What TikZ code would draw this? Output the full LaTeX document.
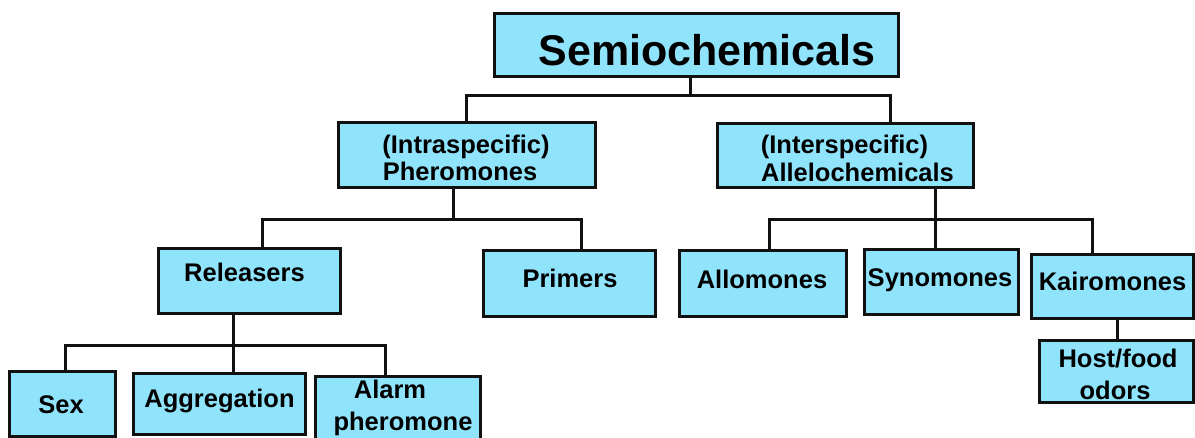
\documentclass[tikz,border=0pt]{standalone}
\usepackage{fontspec}
\setmainfont{Liberation Sans}
\definecolor{boxfill}{RGB}{143,228,252}
\definecolor{inkc}{RGB}{17,17,17}
\tikzset{
  box/.style={draw=inkc, fill=boxfill, line width=3pt, inner sep=0pt, outer sep=0pt},
  conn/.style={draw=inkc, line width=3pt, line cap=rect},
  lbl/.style={anchor=base, inner sep=0pt, text=black, font=\bfseries\fontsize{25.5}{28}\selectfont},
  title/.style={anchor=base, inner sep=0pt, text=black, font=\bfseries\fontsize{43}{48}\selectfont}
}
\begin{document}
\begin{tikzpicture}[x=1pt, y=-1pt]
\useasboundingbox (0,0) rectangle (1195,437);
\fill[white] (0,0) rectangle (1195,437);

% boxes
\node[box, minimum width=404pt, minimum height=63pt] (sem)  at (696,44.5) {};
\node[box, minimum width=257pt, minimum height=65pt] (pher) at (466.5,154.5) {};
\node[box, minimum width=256pt, minimum height=64pt] (alle) at (845,155) {};
\node[box, minimum width=182pt, minimum height=65pt] (rel)  at (249,280.5) {};
\node[box, minimum width=172pt, minimum height=66pt] (prim) at (569,283) {};
\node[box, minimum width=167pt, minimum height=66pt] (allo) at (762.5,283) {};
\node[box, minimum width=154pt, minimum height=65pt] (syn)  at (941,281.5) {};
\node[box, minimum width=162pt, minimum height=64pt] (kai)  at (1112,286) {};
\node[box, minimum width=154pt, minimum height=62pt] (host) at (1116,371) {};
\node[box, minimum width=106pt, minimum height=65pt] (sex)  at (62,403.5) {};
\node[box, minimum width=172pt, minimum height=61pt] (agg)  at (219,403.5) {};
\node[box, minimum width=165pt, minimum height=64pt] (alarm) at (397.5,408) {};

% texts
\node[title] (sem-t) at (707,65) {Semiochemicals};
\node[lbl] (pher-t1) at (466,153) {(Intraspecific)};
\node[lbl] (pher-t2) at (460,180) {Pheromones};
\node[lbl] (alle-t1) at (844.5,153) {(Interspecific)};
\node[lbl] (alle-t2) at (857.5,181) {Allelochemicals};
\node[lbl] (rel-t)  at (244.5,281) {Releasers};
\node[lbl] (prim-t) at (570,287) {Primers};
\node[lbl] (allo-t) at (762,288) {Allomones};
\node[lbl] (syn-t)  at (940,286) {Synomones};
\node[lbl] (kai-t)  at (1112.5,290) {Kairomones};
\node[lbl] (host-t1) at (1118,367) {Host/food};
\node[lbl] (host-t2) at (1115,399) {odors};
\node[lbl] (sex-t)  at (61,413) {Sex};
\node[lbl] (agg-t)  at (219.5,407) {Aggregation};
\node[lbl] (alarm-t1) at (390,398) {Alarm};
\node[lbl] (alarm-t2) at (403,430) {pheromone};

% connectors
\draw[conn] ([xshift=-6pt]sem.south) -- ++(0,19) coordinate (j1);
\draw[conn] ([xshift=-0.5pt]pher.north) |- (j1) -| ([xshift=45pt]alle.north);

\draw[conn] ([xshift=-13.5pt]pher.south) -- ++(0,32) coordinate (j2);
\draw[conn] ([xshift=13pt]rel.north) |- (j2) -| ([xshift=12pt]prim.north);

\draw[conn] ([xshift=90pt]alle.south) -- ++(0,32) coordinate (j3);
\draw[conn] (j3) -- ([xshift=-6pt]syn.north);
\draw[conn] ([xshift=6.5pt]allo.north) |- (j3) -| ([xshift=-20pt]kai.north);

\draw[conn] ([xshift=5pt]kai.south) -- ([xshift=1pt]host.north);

\draw[conn] ([xshift=-16pt]rel.south) -- ++(0,32) coordinate (j4);
\draw[conn] (j4) -- ([xshift=14pt]agg.north);
\draw[conn] ([xshift=3pt]sex.north) |- (j4) -| ([xshift=-12.5pt]alarm.north);
\end{tikzpicture}
\end{document}
